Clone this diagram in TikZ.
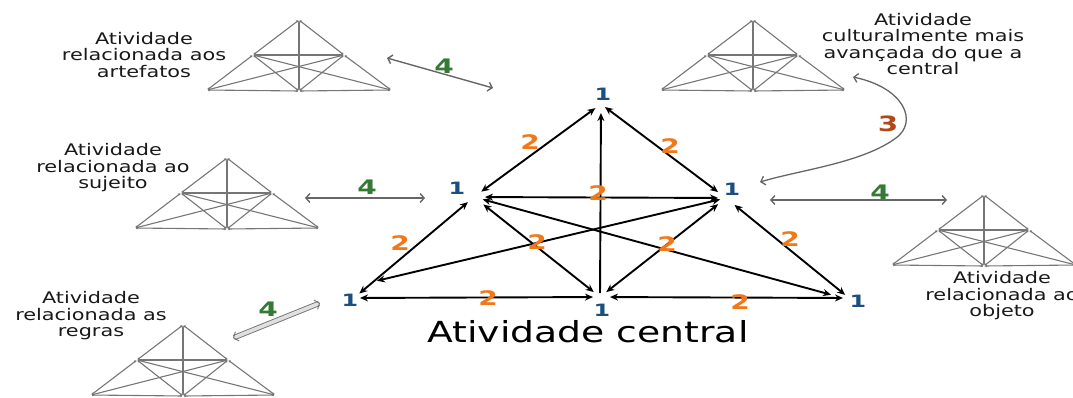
\documentclass[tikz,border=0pt]{standalone}
\usepackage{fontspec}
\setmainfont{DejaVu Sans}
\newfontfamily\lblfont[FakeStretch=1.3]{DejaVu Sans}
\newfontfamily\numfont[FakeStretch=1.4]{DejaVu Sans}
\usetikzlibrary{arrows.meta}
\definecolor{onecol}{HTML}{1B4F80}
\definecolor{twocol}{HTML}{F07818}
\definecolor{fourcol}{HTML}{347A34}
\definecolor{threecol}{HTML}{B0481A}
\definecolor{minigray}{HTML}{767676}
\begin{document}
\begin{tikzpicture}[x=1pt,y=-1pt,
  lbl/.style={font=\lblfont\fontsize{16}{16.5}\selectfont, align=center, text=black!90, inner sep=0pt},
  bigtxt/.style={font=\lblfont\fontsize{29}{29}\selectfont, text=black, inner sep=0pt},
  one/.style={font=\numfont\bfseries\fontsize{17}{17}\selectfont, text=onecol, inner sep=0pt},
  two/.style={font=\numfont\bfseries\fontsize{20}{20}\selectfont, text=twocol, inner sep=0pt},
  four/.style={font=\numfont\bfseries\fontsize{20}{20}\selectfont, text=fourcol, inner sep=0pt},
  three/.style={font=\numfont\bfseries\fontsize{21}{21}\selectfont, text=threecol, inner sep=0pt},
  rel/.style={draw=black, line width=1.9pt, {Stealth[length=8pt,width=7pt]}-{Stealth[length=8pt,width=7pt]}},
  relup/.style={draw=black, line width=1.9pt, -{Stealth[length=8pt,width=7pt]}},
  minie/.style={draw=minigray, line width=1.1pt, {Circle[length=2.2pt]}-{Circle[length=2.2pt]}, shorten <=1pt, shorten >=1pt},
  link/.style={draw=black!60, line width=1.4pt, {Straight Barb[length=4pt,width=9pt]}-{Straight Barb[length=4pt,width=9pt]}},
  fatlink/.style={draw=black!55, line width=0.9pt, double=black!12, double distance=3.6pt, {Straight Barb[length=4pt,width=10pt]}-{Straight Barb[length=4pt,width=10pt]}},
  mini/.pic={
    \coordinate (-t) at (0,-71);
    \coordinate (-ul) at (-46,-36);
    \coordinate (-ur) at (45,-36);
    \coordinate (-bl) at (-92,-1);
    \coordinate (-bc) at (0,0);
    \coordinate (-br) at (92,-1);
    \draw[minie] (-t) -- (-ul);
    \draw[minie] (-t) -- (-ur);
    \draw[minie] (-t) -- (-bc);
    \draw[minie] (-ul) -- (-ur);
    \draw[minie] (-ul) -- (-bl);
    \draw[minie] (-ul) -- (-bc);
    \draw[minie] (-ul) -- (-br);
    \draw[minie] (-ur) -- (-bl);
    \draw[minie] (-ur) -- (-bc);
    \draw[minie] (-ur) -- (-br);
    \draw[minie] (-bl) -- (-bc);
    \draw[minie] (-bc) -- (-br);
  }
]
\useasboundingbox (0,0) rectangle (1073,397);
\clip (0,0) rectangle (1073,397);

% central activity system vertices
\coordinate (T)  at (601,104);
\coordinate (UL) at (474,197);
\coordinate (UR) at (726,198);
\coordinate (BL) at (354,298);
\coordinate (BC) at (600,297);
\coordinate (BR) at (849,298);
\coordinate (BLx) at (376,281);
\coordinate (BRx) at (832,295);

\draw[rel, shorten <=7pt, shorten >=9pt] (T) -- (UL);
\draw[rel, shorten <=5pt, shorten >=10pt] (T) -- (UR);
\draw[relup, shorten <=4pt, shorten >=9pt] (BC) -- (T);
\draw[rel, shorten <=11pt, shorten >=8pt] (UL) -- (UR);
\draw[rel, shorten <=8pt, shorten >=7pt] (UL) -- (BL);
\draw[rel, shorten <=12pt, shorten >=8pt] (UL) -- (BC);
\draw[rel, shorten <=9pt, shorten >=1pt] (UL) -- (BRx);
\draw[rel, shorten <=6pt, shorten >=1pt] (UR) -- (BLx);
\draw[rel, shorten <=10pt, shorten >=8pt] (UR) -- (BC);
\draw[rel, shorten <=11pt, shorten >=5pt] (UR) -- (BR);
\draw[rel, shorten <=6pt, shorten >=7pt] (BL) -- (BC);
\draw[rel, shorten <=10pt, shorten >=6pt] (BC) -- (BR);

% labels 1
\node[one] (nT)  at (603,94)  {1};
\node[one] (nUL) at (457,188) {1};
\node[one] (nUR) at (732,189) {1};
\node[one] (nBL) at (350,300) {1};
\node[one] (nBC) at (602,310) {1};
\node[one] (nBR) at (858,301) {1};

% labels 2
\node[two] (d1) at (530,142) {2};
\node[two] (d2) at (670,146) {2};
\node[two] (d3) at (598,193) {2};
\node[two] (d4) at (400,243) {2};
\node[two] (d5) at (537,242) {2};
\node[two] (d6) at (667,244) {2};
\node[two] (d7) at (790,239) {2};
\node[two] (d8) at (488,298) {2};
\node[two] (d9) at (740,302) {2};

\node[bigtxt, anchor=base] (central) at (588,342) {Atividade central};

% neighbouring activity systems
\pic (m1) at (299,91) {mini};
\pic (m2) at (753,91) {mini};
\pic (m3) at (227,229) {mini};
\pic (m4) at (183,396) {mini};
\pic (m5) at (984,266) {mini};

\node[lbl] (l1) at (144,55) {Atividade\\relacionada aos\\artefatos};
\node[lbl] (l2) at (923,44) {Atividade\\culturalmente mais\\avançada do que a\\central};
\node[lbl] (l3) at (113,168) {Atividade\\relacionada ao\\sujeito};
\node[lbl] (l4) at (91,316) {Atividade\\relacionada as\\regras};
\node[lbl] (l5) at (1002,296) {Atividade\\relacionada ao\\objeto};

% links 4
\coordinate (a1s) at (387,58);  \coordinate (a1e) at (493,88);
\coordinate (a2s) at (305,198); \coordinate (a2e) at (425,198);
\coordinate (a3s) at (233,338); \coordinate (a3e) at (320,303);
\coordinate (a4s) at (770,200); \coordinate (a4e) at (947,200);
\draw[link] (a1s) -- (a1e);
\draw[link] (a2s) -- (a2e);
\draw[fatlink] (a3s) -- (a3e);
\draw[link] (a4s) -- (a4e);
\node[four] (f1) at (444,66)  {4};
\node[four] (f2) at (367,187) {4};
\node[four] (f3) at (268,309) {4};
\node[four] (f4) at (880,192) {4};

% link 3
\coordinate (c3s) at (853,77);
\coordinate (c3m) at (896,138);
\coordinate (c3e) at (760,182);
\draw[link, line width=1.3pt] (c3s) .. controls (905,88) and (918,122) .. (c3m) .. controls (862,163) and (800,170) .. (c3e);
\node[three] (th) at (888,124) {3};
\end{tikzpicture}
\end{document}
